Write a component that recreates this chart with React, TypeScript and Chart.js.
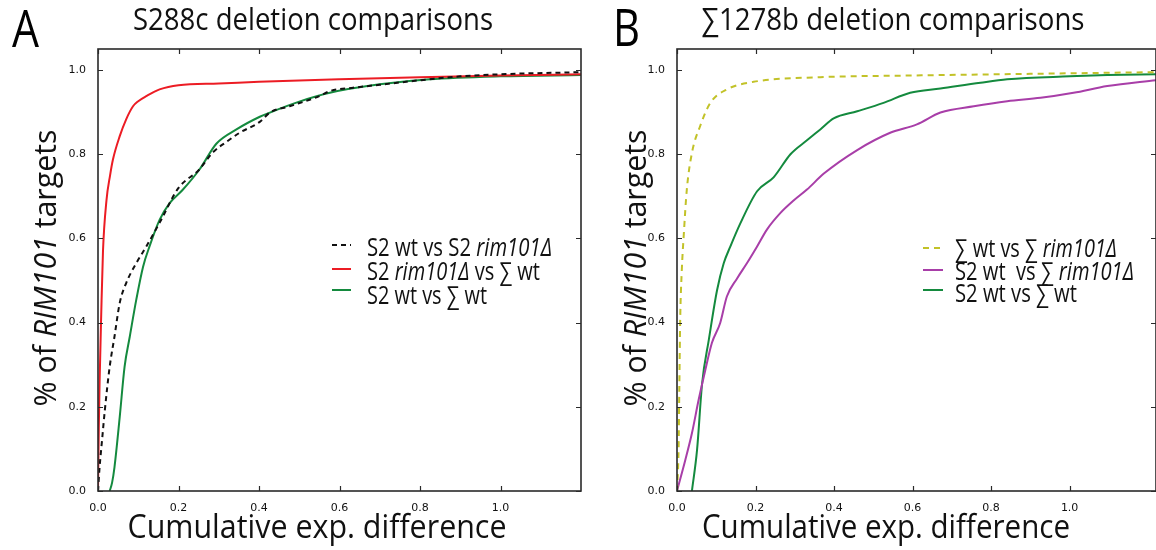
import React, { useEffect, useRef } from "react";
import { Chart, registerables } from "chart.js";

Chart.register(...registerables);

// ---------- tick values ----------
const xTickValues = [0, 0.2, 0.4, 0.6, 0.8, 1.0];
const yTickValues = [0, 0.2, 0.4, 0.6, 0.8, 1.0];

// ---------- Panel A: S288c deletion comparisons ----------
const aBlackX = [0, 0.004, 0.01, 0.017, 0.029, 0.041, 0.054, 0.07, 0.095, 0.12, 0.153, 0.2, 0.25, 0.286, 0.32, 0.352, 0.402, 0.427, 0.476, 0.55, 0.576, 0.634, 0.7, 0.783, 0.9, 1.0, 1.2];
const aBlackY = [0, 0.057, 0.12, 0.192, 0.295, 0.367, 0.447, 0.494, 0.541, 0.581, 0.637, 0.72, 0.762, 0.805, 0.83, 0.851, 0.877, 0.899, 0.914, 0.938, 0.95, 0.958, 0.965, 0.974, 0.985, 0.99, 0.995];

const aRedX = [0, 0.002, 0.004, 0.008, 0.0124, 0.021, 0.03, 0.037, 0.054, 0.07, 0.087, 0.1, 0.12, 0.153, 0.2, 0.3, 0.4, 0.6, 0.8, 1.0, 1.2];
const aRedY = [0, 0.15, 0.26, 0.42, 0.57, 0.69, 0.75, 0.787, 0.843, 0.883, 0.914, 0.926, 0.938, 0.954, 0.964, 0.968, 0.972, 0.978, 0.983, 0.987, 0.99];

const aGreenX = [0.029, 0.035, 0.041, 0.054, 0.066, 0.079, 0.095, 0.112, 0.128, 0.153, 0.178, 0.21, 0.253, 0.294, 0.344, 0.402, 0.427, 0.5, 0.576, 0.7, 0.824, 1.0, 1.2];
const aGreenY = [0, 0.02, 0.057, 0.176, 0.295, 0.367, 0.454, 0.533, 0.581, 0.644, 0.684, 0.715, 0.765, 0.825, 0.859, 0.889, 0.899, 0.925, 0.946, 0.966, 0.978, 0.985, 0.988];

// ---------- Panel B: ∑1278b deletion comparisons ----------
const bYellowX = [0, 0.004, 0.006, 0.008, 0.012, 0.017, 0.025, 0.038, 0.059, 0.085, 0.127, 0.195, 0.365, 0.6, 0.9, 1.22];
const bYellowY = [0, 0.1, 0.25, 0.4, 0.52, 0.605, 0.716, 0.803, 0.867, 0.922, 0.954, 0.972, 0.983, 0.987, 0.991, 0.995];

const bMagentaX = [0, 0.021, 0.038, 0.055, 0.072, 0.089, 0.11, 0.127, 0.153, 0.178, 0.204, 0.229, 0.263, 0.297, 0.331, 0.374, 0.459, 0.543, 0.611, 0.671, 0.756, 0.841, 0.926, 1.01, 1.096, 1.22];
const bMagentaY = [0, 0.073, 0.137, 0.216, 0.287, 0.352, 0.399, 0.462, 0.505, 0.541, 0.581, 0.621, 0.66, 0.69, 0.716, 0.754, 0.81, 0.851, 0.871, 0.899, 0.914, 0.926, 0.934, 0.946, 0.962, 0.976];

const bGreenX = [0.038, 0.051, 0.064, 0.081, 0.102, 0.119, 0.136, 0.161, 0.204, 0.246, 0.289, 0.331, 0.365, 0.399, 0.459, 0.526, 0.594, 0.671, 0.773, 0.841, 1.0, 1.096, 1.22];
const bGreenY = [0, 0.097, 0.256, 0.359, 0.477, 0.541, 0.581, 0.635, 0.712, 0.745, 0.8, 0.833, 0.859, 0.885, 0.902, 0.922, 0.946, 0.956, 0.97, 0.978, 0.985, 0.988, 0.99];

// ---------- texts ----------
type Seg = { t: string; i?: boolean };
const titleA = "S288c deletion comparisons";
const titleB = "∑1278b deletion comparisons";
const xLabelText = "Cumulative exp. difference";
const yLabelSegs: Seg[] = [{ t: "% of " }, { t: "RIM101", i: true }, { t: " targets" }];
const legendA: Seg[][] = [
  [{ t: "S2 wt vs S2 " }, { t: "rim101Δ", i: true }],
  [{ t: "S2 " }, { t: "rim101Δ", i: true }, { t: " vs ∑ wt" }],
  [{ t: "S2 wt vs ∑ wt" }],
];
const legendB: Seg[][] = [
  [{ t: "∑ wt vs ∑ " }, { t: "rim101Δ", i: true }],
  [{ t: "S2 wt  vs ∑ " }, { t: "rim101Δ", i: true }],
  [{ t: "S2 wt vs ∑ wt" }],
];

const RED = "#ec1c24";
const GREEN = "#148a3e";
const BLACK = "#111111";
const OLIVE = "#c2c228";
const MAGENTA = "#a83ea8";
const FAMILY = '"Open Sans", "Noto Sans", "DejaVu Sans", sans-serif';

const zip = (xs: number[], ys: number[]) => xs.map((x, k) => ({ x, y: ys[k] }));

function drawRich(
  ctx: CanvasRenderingContext2D,
  segs: Seg[],
  x: number,
  y: number,
  size: number,
  targetW: number,
  align: "left" | "center",
  rot = 0,
  color = "#111"
) {
  ctx.save();
  const fontOf = (s: Seg) => `${s.i ? "italic " : ""}${size}px ${FAMILY}`;
  let natural = 0;
  const widths = segs.map((s) => {
    ctx.font = fontOf(s);
    const w = ctx.measureText(s.t).width;
    natural += w;
    return w;
  });
  const sx = targetW > 0 ? targetW / natural : 1;
  ctx.translate(x, y);
  if (rot) ctx.rotate(rot);
  ctx.scale(sx, 1);
  let cx = align === "center" ? -natural / 2 : 0;
  ctx.fillStyle = color;
  ctx.textBaseline = "alphabetic";
  ctx.textAlign = "left";
  segs.forEach((s, k) => {
    ctx.font = fontOf(s);
    ctx.fillText(s.t, cx, 0);
    cx += widths[k];
  });
  ctx.restore();
}

type LegendItem = { color: string; dash: number[]; segs: Seg[]; lineY: number; baseY: number; w: number };
type Deco = {
  letter: string;
  letterX: number;
  letterY: number;
  title: string;
  titleX: number;
  titleW: number;
  yLabelX: number;
  xLabelX: number;
  xLabelW: number;
  legendLineX0: number;
  legendLineX1: number;
  legendTextX: number;
  legend: LegendItem[];
};

const decoPlugin = {
  id: "deco",
  afterDraw(chart: any, _args: any, opts: any) {
    const d: Deco = opts.deco;
    if (!d) return;
    const ctx: CanvasRenderingContext2D = chart.ctx;
    const { left, right, top, bottom } = chart.chartArea;
    const xs = chart.scales.x;
    const ys = chart.scales.y;

    // frame with inward ticks
    ctx.save();
    ctx.strokeStyle = "#2a2a2a";
    ctx.lineWidth = 1.6;
    ctx.strokeRect(left, top, right - left, bottom - top);
    ctx.lineWidth = 1.2;
    const tl = 5;
    xTickValues.forEach((v) => {
      const px = Math.round(xs.getPixelForValue(v)) + 0.5;
      ctx.beginPath();
      ctx.moveTo(px, bottom);
      ctx.lineTo(px, bottom - tl);
      ctx.moveTo(px, top);
      ctx.lineTo(px, top + tl);
      ctx.stroke();
    });
    yTickValues.forEach((v) => {
      const py = Math.round(ys.getPixelForValue(v)) + 0.5;
      ctx.beginPath();
      ctx.moveTo(left, py);
      ctx.lineTo(left + tl, py);
      ctx.moveTo(right, py);
      ctx.lineTo(right - tl, py);
      ctx.stroke();
    });
    ctx.restore();

    // panel letter
    drawRich(ctx, [{ t: d.letter }], d.letterX, d.letterY, 52, 27, "left", 0, "#000");
    // title
    drawRich(ctx, [{ t: d.title }], d.titleX, 30, 31, d.titleW, "center", 0, "#111");
    // x label
    drawRich(ctx, [{ t: xLabelText }], d.xLabelX, 538, 32, d.xLabelW, "center", 0, "#111");
    // y label
    drawRich(ctx, yLabelSegs, d.yLabelX, 268, 31, 277, "center", -Math.PI / 2, "#111");

    // legend
    d.legend.forEach((it) => {
      ctx.save();
      ctx.strokeStyle = it.color;
      ctx.lineWidth = 2;
      ctx.setLineDash(it.dash);
      ctx.beginPath();
      ctx.moveTo(d.legendLineX0, it.lineY);
      ctx.lineTo(d.legendLineX1, it.lineY);
      ctx.stroke();
      ctx.restore();
      drawRich(ctx, it.segs, d.legendTextX, it.baseY, 25, it.w, "left", 0, "#111");
    });
  },
};

type PanelProps = {
  left: number;
  width: number;
  xMax: number;
  yAxisWidth: number;
  padRight: number;
  datasets: any[];
  deco: Deco;
};

function Panel({ left, width, xMax, yAxisWidth, padRight, datasets, deco }: PanelProps) {
  const ref = useRef<HTMLCanvasElement | null>(null);
  useEffect(() => {
    if (!ref.current) return;
    const tickFont = { family: '"DejaVu Sans", sans-serif', size: 11 };
    const chart = new Chart(ref.current, {
      type: "line",
      data: { datasets },
      options: {
        animation: false,
        responsive: false,
        devicePixelRatio: 1,
        layout: { padding: { left: 0, right: padRight, top: 49, bottom: 0 } },
        elements: { point: { radius: 0 } },
        plugins: {
          legend: { display: false },
          title: { display: false },
          tooltip: { enabled: false },
          deco: { deco },
        } as any,
        scales: {
          x: {
            type: "linear",
            min: 0,
            max: xMax,
            grid: { display: false },
            border: { display: false },
            afterBuildTicks: (s: any) => {
              s.ticks = xTickValues.map((v) => ({ value: v }));
            },
            afterFit: (s: any) => {
              s.height = 59;
            },
            ticks: {
              font: tickFont,
              color: "#111",
              padding: 3,
              maxRotation: 0,
              autoSkip: false,
              callback: (v: any) => Number(v).toFixed(1),
            },
          },
          y: {
            type: "linear",
            min: 0,
            max: 1.05,
            grid: { display: false },
            border: { display: false },
            afterBuildTicks: (s: any) => {
              s.ticks = yTickValues.map((v) => ({ value: v }));
            },
            afterFit: (s: any) => {
              s.width = yAxisWidth;
            },
            ticks: {
              font: tickFont,
              color: "#111",
              padding: 4,
              autoSkip: false,
              callback: (v: any) => Number(v).toFixed(1),
            },
          },
        },
      },
      plugins: [decoPlugin],
    } as any);
    return () => chart.destroy();
  }, []);
  return (
    <canvas
      ref={ref}
      width={width}
      height={550}
      style={{ position: "absolute", left, top: 0, width, height: 550 }}
    />
  );
}

const lineDs = (label: string, xs: number[], ys: number[], color: string, dash: number[] = []) => ({
  label,
  data: zip(xs, ys),
  borderColor: color,
  backgroundColor: color,
  borderWidth: 2,
  borderDash: dash,
  pointRadius: 0,
  fill: false,
  cubicInterpolationMode: "monotone",
});

export default function App() {
  const datasetsA = [
    lineDs("S2 wt vs S2 rim101Δ", aBlackX, aBlackY, BLACK, [5, 4]),
    lineDs("S2 rim101Δ vs ∑ wt", aRedX, aRedY, RED),
    lineDs("S2 wt vs ∑ wt", aGreenX, aGreenY, GREEN),
  ];
  const datasetsB = [
    lineDs("∑ wt vs ∑ rim101Δ", bYellowX, bYellowY, OLIVE, [6, 5]),
    lineDs("S2 wt  vs ∑ rim101Δ", bMagentaX, bMagentaY, MAGENTA),
    lineDs("S2 wt vs ∑ wt", bGreenX, bGreenY, GREEN),
  ];
  const decoA: Deco = {
    letter: "A",
    letterX: 12,
    letterY: 47,
    title: titleA,
    titleX: 313,
    titleW: 360,
    yLabelX: 56,
    xLabelX: 317,
    xLabelW: 379,
    legendLineX0: 332,
    legendLineX1: 351,
    legendTextX: 367,
    legend: [
      { color: BLACK, dash: [5, 4], segs: legendA[0], lineY: 245, baseY: 256, w: 185 },
      { color: RED, dash: [], segs: legendA[1], lineY: 269, baseY: 280, w: 173 },
      { color: GREEN, dash: [], segs: legendA[2], lineY: 290, baseY: 304, w: 120 },
    ],
  };
  const off = 590;
  const decoB: Deco = {
    letter: "B",
    letterX: 613 - off,
    letterY: 46,
    title: titleB,
    titleX: 893 - off,
    titleW: 383,
    yLabelX: 646 - off,
    xLabelX: 886 - off,
    xLabelW: 368,
    legendLineX0: 923 - off,
    legendLineX1: 943 - off,
    legendTextX: 955 - off,
    legend: [
      { color: OLIVE, dash: [6, 5], segs: legendB[0], lineY: 248, baseY: 257, w: 162 },
      { color: MAGENTA, dash: [], segs: legendB[1], lineY: 270, baseY: 280, w: 179 },
      { color: GREEN, dash: [], segs: legendB[2], lineY: 290, baseY: 302, w: 122 },
    ],
  };
  return (
    <div style={{ position: "absolute", left: 0, top: 0, width: 1156, height: 550, background: "#fff", overflow: "hidden" }}>
      <Panel left={0} width={590} xMax={1.2} yAxisWidth={98} padRight={9} datasets={datasetsA} deco={decoA} />
      <Panel left={off} width={1156 - off} xMax={1.22} yAxisWidth={87} padRight={0} datasets={datasetsB} deco={decoB} />
    </div>
  );
}
